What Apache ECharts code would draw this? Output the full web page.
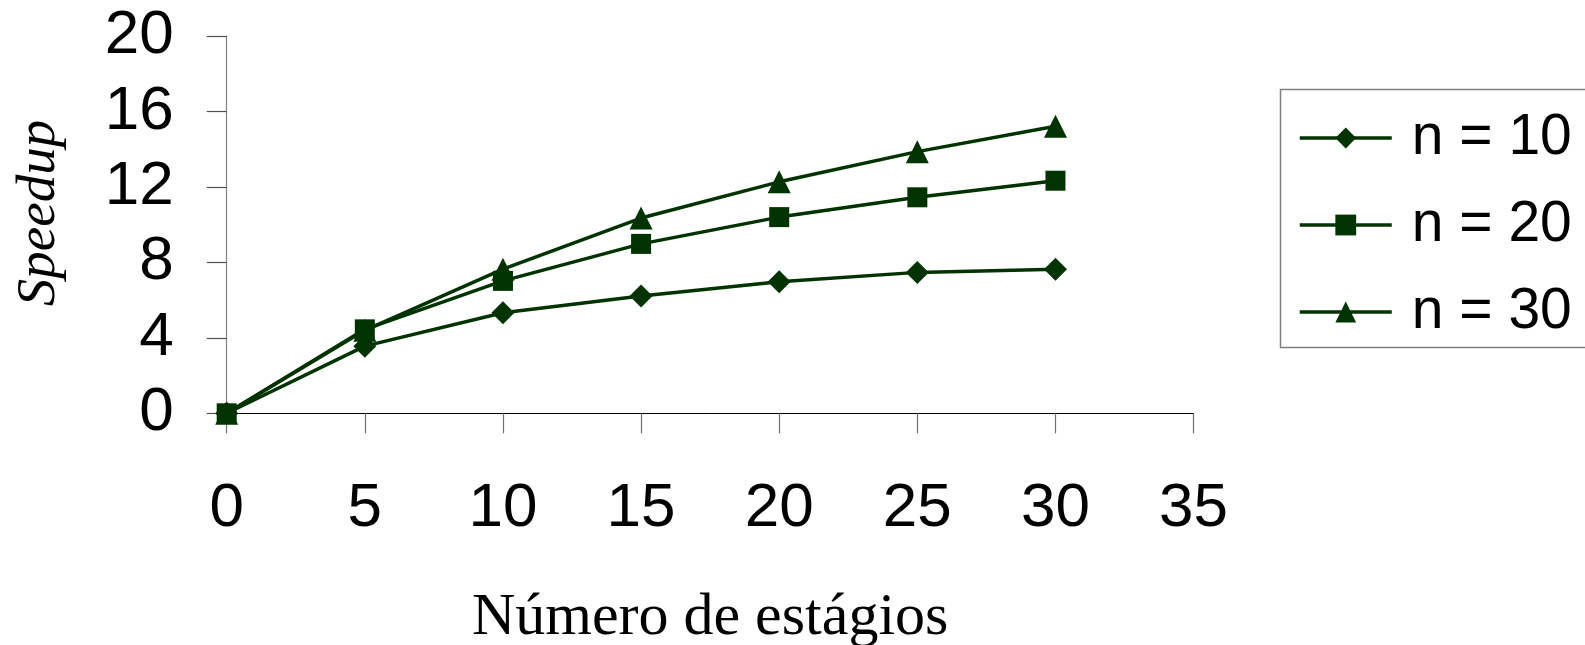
<!DOCTYPE html>
<html>
<head>
<meta charset="utf-8">
<script src="https://cdn.jsdelivr.net/npm/echarts@6/dist/echarts.min.js"></script>
<style>
html,body{margin:0;padding:0;background:#fff;}
#chart{width:1585px;height:645px;}
</style>
</head>
<body>
<div id="chart"></div>
<script>
const stages = [0, 5, 10, 15, 20, 25, 30];
const speedupN10 = [0, 3.56, 5.33, 6.22, 6.97, 7.47, 7.64];
const speedupN20 = [0, 4.45, 7.02, 8.98, 10.4, 11.45, 12.33];
const speedupN30 = [0, 4.4, 7.64, 10.35, 12.27, 13.87, 15.22];
const seriesNames = ['n = 10', 'n = 20', 'n = 30'];
const xTitle = 'Número de estágios';
const yTitle = 'Speedup';

const lineColor = '#003300';
const sans = '"Liberation Sans", Arial, Helvetica, sans-serif';
const serif = '"Liberation Serif", "Times New Roman", serif';

function pairs(vals) { return stages.map((s, i) => [s, vals[i]]); }

const chart = echarts.init(document.getElementById('chart'), null, {renderer: 'canvas'});
chart.setOption({
  animation: false,
  backgroundColor: '#ffffff',
  grid: {left: 226.7, right: 391.4, top: 36, bottom: 231.7, containLabel: false, outerBoundsMode: 'none'},
  xAxis: {
    type: 'value', min: 0, max: 35, interval: 5,
    splitLine: {show: false},
    axisLine: {show: true, lineStyle: {color: '#000000', width: 1}},
    axisTick: {show: true, length: 20, lineStyle: {color: '#707070', width: 1.2}},
    axisLabel: {margin: 65, fontSize: 62, fontFamily: sans, color: '#000'},
    name: xTitle, nameLocation: 'middle', nameGap: 175,
    nameTextStyle: {fontSize: 60, fontFamily: serif, color: '#000'}
  },
  yAxis: {
    type: 'value', min: 0, max: 20, interval: 4,
    splitLine: {show: false},
    axisLine: {show: true, lineStyle: {color: '#808080', width: 1.2}},
    axisTick: {show: true, length: 20, lineStyle: {color: '#505050', width: 1.2}},
    axisLabel: {margin: 53, fontSize: 62, fontFamily: sans, color: '#000'}
  },
  legend: {
    orient: 'vertical', left: 1298, top: 108, padding: 0,
    itemWidth: 92, itemHeight: 26, itemGap: 27,
    data: seriesNames,
    lineStyle: {width: 3.5},
    textStyle: {fontSize: 57, fontFamily: sans, color: '#000', lineHeight: 60, padding: [0, 0, 0, 15]}
  },
  graphic: [
    {type: 'rect', left: 1278, top: 87, silent: true,
     shape: {x: 0, y: 0, width: 420, height: 258},
     style: {fill: 'none', stroke: '#808080', lineWidth: 1.5}},
    {type: 'text', x: 40, y: 213, rotation: Math.PI / 2, silent: true,
     style: {text: yTitle, fontSize: 55, fontStyle: 'italic', fontFamily: serif, fill: '#000',
             align: 'center', verticalAlign: 'middle'}}
  ],
  series: [
    {name: seriesNames[0], type: 'line', data: pairs(speedupN10), symbol: 'diamond', symbolSize: 23,
     lineStyle: {color: lineColor, width: 3.5}, itemStyle: {color: lineColor}},
    {name: seriesNames[1], type: 'line', data: pairs(speedupN20), symbol: 'rect', symbolSize: 20,
     lineStyle: {color: lineColor, width: 3.5}, itemStyle: {color: lineColor}},
    {name: seriesNames[2], type: 'line', data: pairs(speedupN30), symbol: 'triangle', symbolSize: 23,
     lineStyle: {color: lineColor, width: 3.5}, itemStyle: {color: lineColor}}
  ]
});
</script>
</body>
</html>
